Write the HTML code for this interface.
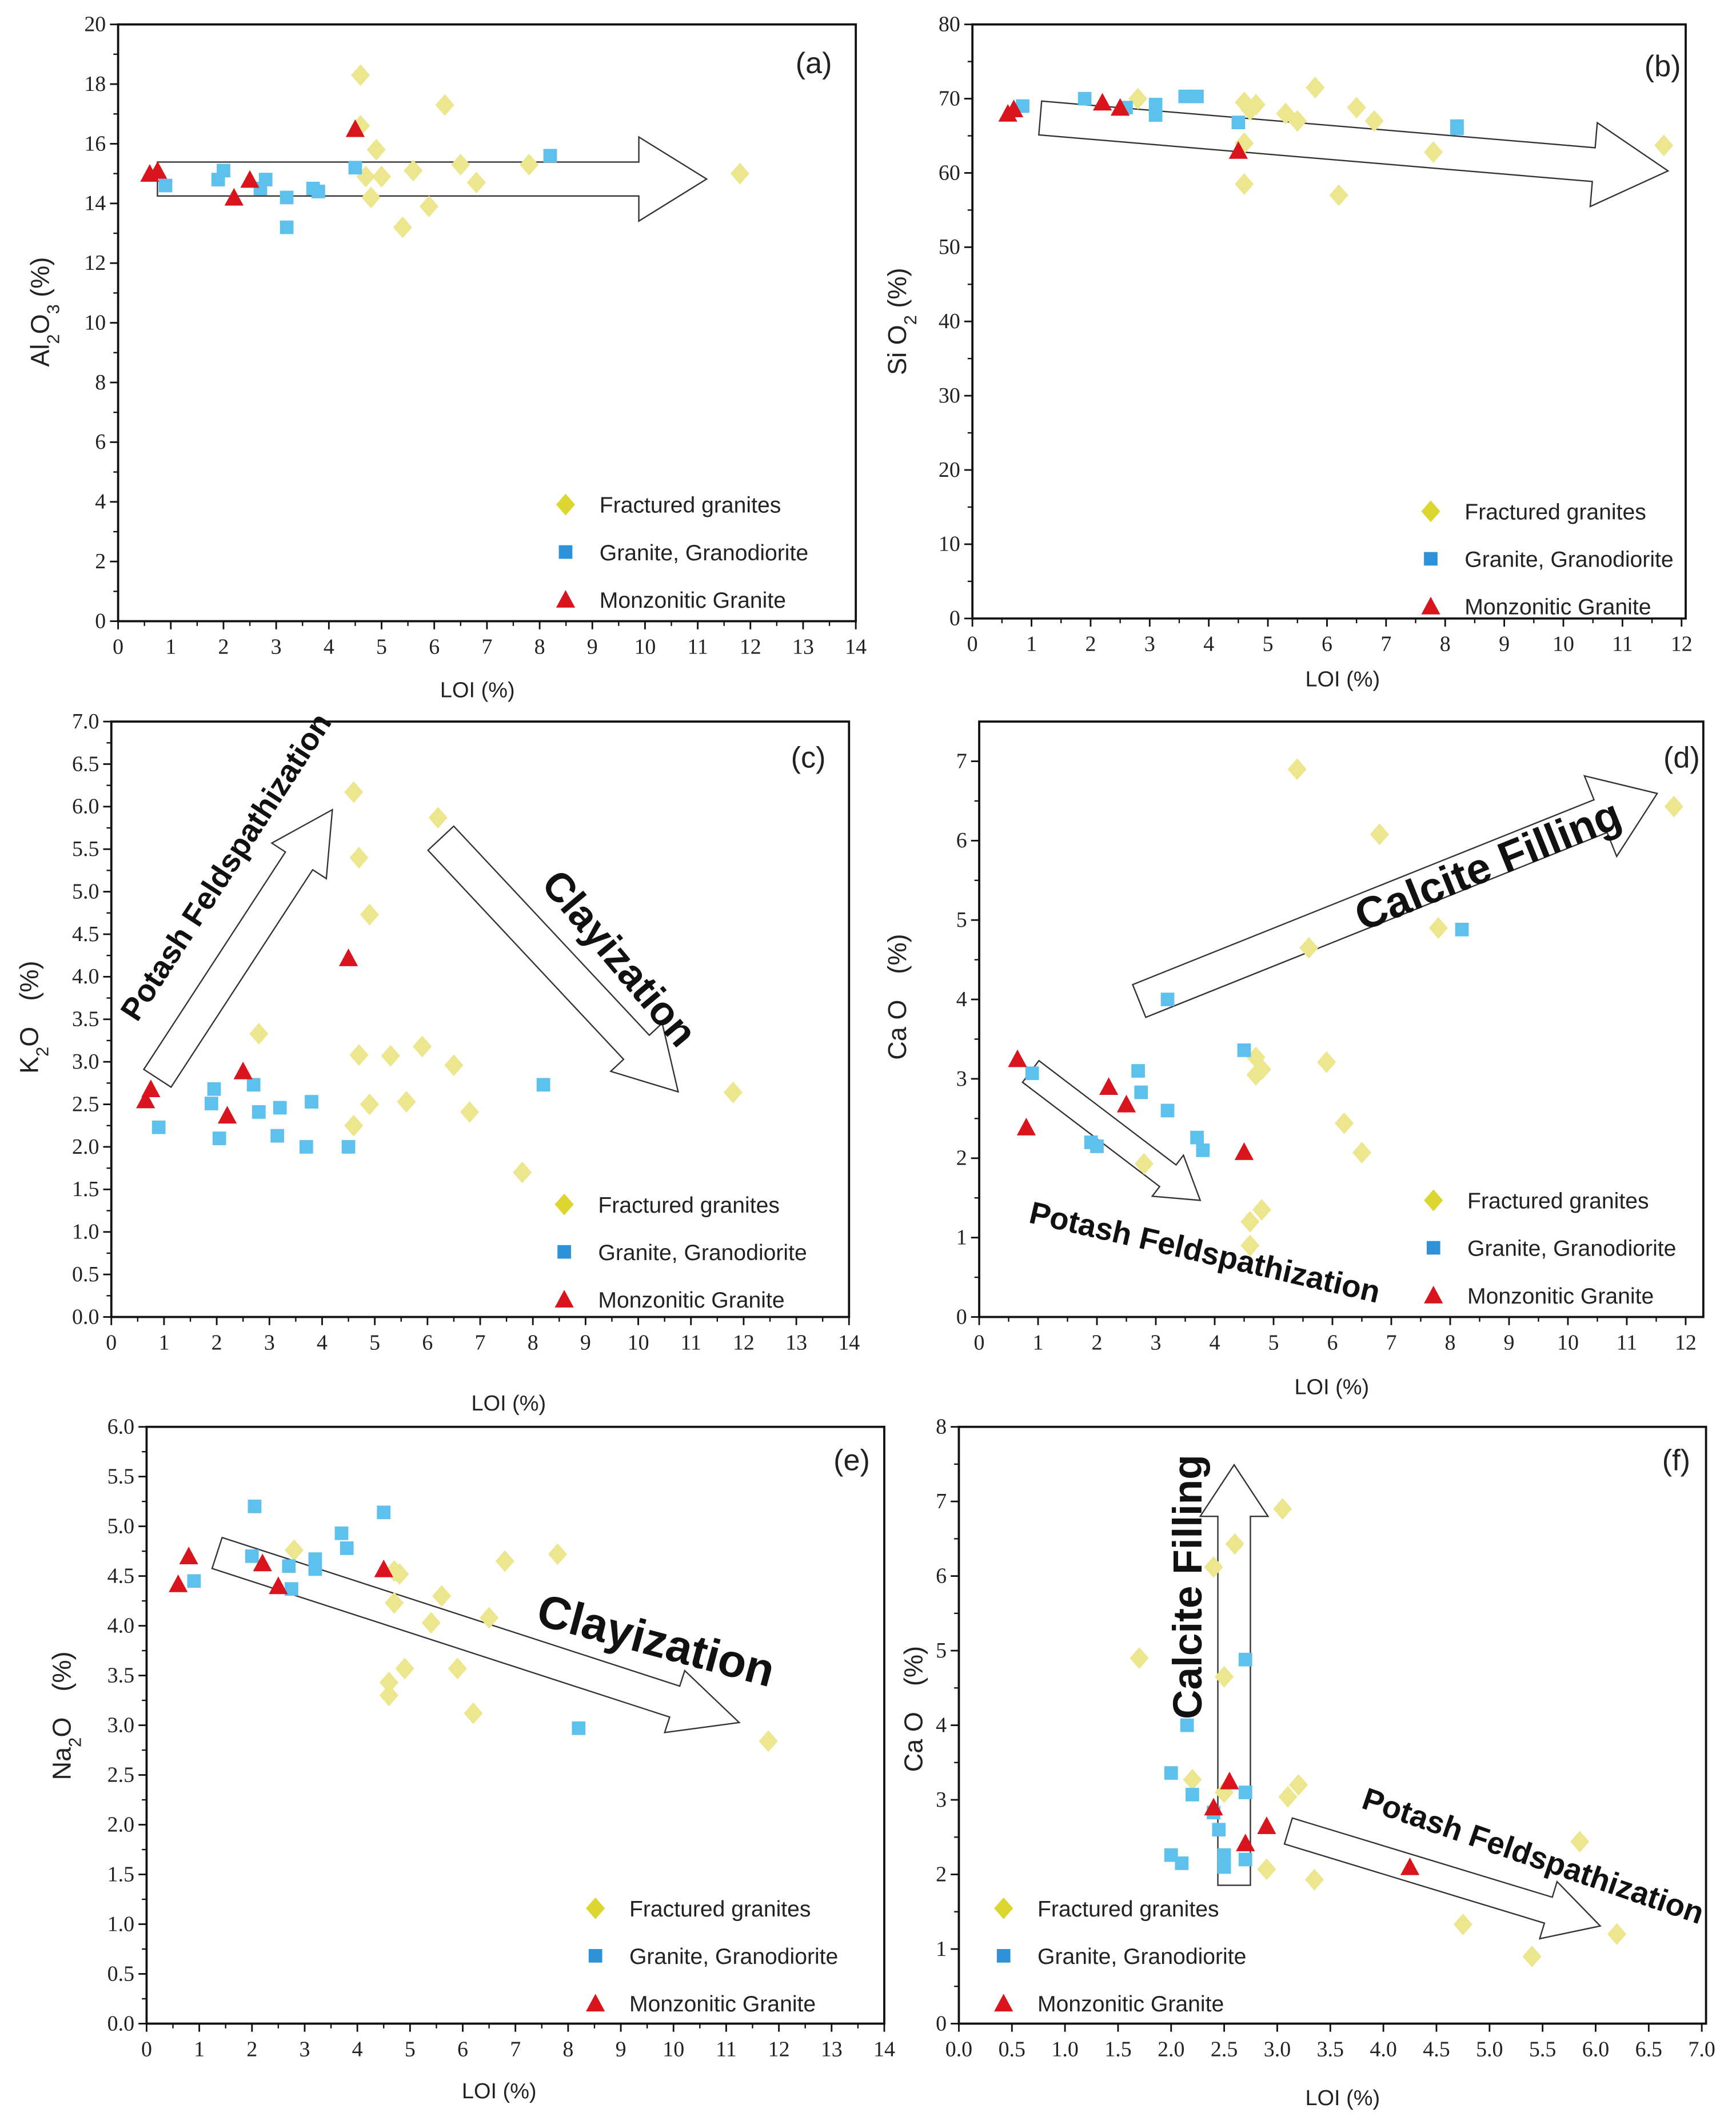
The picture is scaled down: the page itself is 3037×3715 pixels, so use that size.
<!DOCTYPE html>
<html><head><meta charset="utf-8"><style>
html,body{margin:0;padding:0;background:#fff;}
svg{display:block;}
</style></head><body>
<svg id="fig" xmlns="http://www.w3.org/2000/svg" width="3037" height="3715" viewBox="0 0 1280 1566"></svg>
<script>
// ---------- DATA ----------
const aYellow=[[4.6,18.3],[4.6,16.6],[4.7,14.9],[4.8,14.2],[4.9,15.8],[5,14.9],[5.4,13.2],[5.6,15.1],[5.9,13.9],[6.2,17.3],[6.5,15.3],[6.8,14.7],[7.8,15.3],[11.8,15.0]];
const aBlue=[[0.9,14.6],[1.9,14.8],[2.0,15.1],[2.7,14.5],[2.8,14.8],[3.2,14.2],[3.2,13.2],[3.7,14.5],[3.8,14.4],[4.5,15.2],[8.2,15.6]];
const aRed=[[0.6,15.0],[0.75,15.1],[2.2,14.2],[2.5,14.8],[4.5,16.5]];
const bYellow=[[2.8,70],[4.6,69.5],[4.7,68.5],[4.8,69.2],[4.6,64],[4.6,58.5],[5.3,68],[5.5,67],[5.8,71.5],[6.2,57],[6.5,68.8],[6.8,67],[7.8,62.8],[11.7,63.7]];
const bBlue=[[0.85,69],[1.9,70],[2.6,68.8],[3.1,69.2],[3.1,67.8],[3.6,70.3],[3.8,70.3],[4.5,66.8],[8.2,66],[8.2,66.3]];
const bRed=[[0.6,68],[0.7,68.6],[2.2,69.5],[2.5,68.8],[4.5,63]];
const cYellow=[[2.8,3.33],[4.6,6.17],[4.7,5.4],[4.9,4.73],[4.7,3.08],[4.9,2.5],[4.6,2.25],[5.3,3.07],[5.6,2.53],[5.9,3.18],[6.2,5.87],[6.5,2.96],[6.8,2.41],[7.8,1.7],[11.8,2.64]];
const cBlue=[[0.9,2.23],[1.9,2.51],[1.95,2.68],[2.05,2.1],[2.7,2.73],[2.8,2.41],[3.15,2.13],[3.2,2.46],[3.7,2.0],[3.8,2.53],[4.5,2.0],[8.2,2.73]];
const cRed=[[0.65,2.55],[0.75,2.68],[2.2,2.37],[2.5,2.89],[4.5,4.22]];
const dYellow=[[2.8,1.93],[4.6,0.9],[4.6,1.2],[4.7,3.27],[4.7,3.05],[4.8,3.12],[4.8,1.35],[5.4,6.9],[5.6,4.65],[5.9,3.21],[6.2,2.44],[6.5,2.07],[6.8,6.08],[7.8,4.9],[11.8,6.43]];
const dBlue=[[0.9,3.07],[1.9,2.2],[2.0,2.15],[2.7,3.1],[2.75,2.83],[3.2,4.0],[3.2,2.6],[3.7,2.26],[3.8,2.1],[4.5,3.36],[8.2,4.88]];
const dRed=[[0.65,3.25],[0.8,2.39],[2.2,2.9],[2.5,2.68],[4.5,2.08]];
const eYellow=[[2.8,4.76],[4.6,3.43],[4.6,3.3],[4.7,4.55],[4.7,4.23],[4.8,4.52],[4.9,3.57],[5.4,4.03],[5.6,4.3],[5.9,3.57],[6.2,3.12],[6.5,4.08],[6.8,4.65],[7.8,4.72],[11.8,2.84]];
const eBlue=[[0.9,4.45],[2.0,4.7],[2.05,5.2],[2.7,4.6],[2.75,4.37],[3.2,4.67],[3.2,4.57],[3.7,4.93],[3.8,4.78],[4.5,5.14],[8.2,2.97]];
const eRed=[[0.6,4.42],[0.8,4.7],[2.2,4.63],[2.5,4.4],[4.5,4.57]];
const fYellow=[[1.7,4.9],[2.2,3.27],[2.4,6.12],[2.5,4.65],[2.5,3.1],[2.6,6.43],[2.9,2.07],[3.05,6.9],[3.1,3.04],[3.2,3.2],[3.35,1.93],[4.75,1.33],[5.4,0.9],[5.85,2.44],[6.2,1.2]];
const fBlue=[[2.0,3.36],[2.0,2.26],[2.1,2.15],[2.15,4.0],[2.2,3.07],[2.4,2.83],[2.45,2.6],[2.5,2.26],[2.5,2.1],[2.7,4.88],[2.7,3.1],[2.7,2.2]];
const fRed=[[2.4,2.9],[2.55,3.25],[2.7,2.42],[2.9,2.65],[4.25,2.1]];
const legendLabels=["Fractured granites","Granite, Granodiorite","Monzonitic Granite"];

// ---------- DRAW ----------
const NS="http://www.w3.org/2000/svg";
const svg=document.getElementById('fig');
function el(tag,attrs,parent,text){const e=document.createElementNS(NS,tag);for(const k in attrs)e.setAttribute(k,attrs[k]);if(text!==undefined)e.textContent=text;(parent||svg).appendChild(e);return e;}
const YC="#ece78e",BC="#5ec0ec",RC="#d9141c";
function diamond(g,x,y,c){return el('polygon',{points:`${x},${y-8} ${x+7},${y} ${x},${y+8} ${x-7},${y}`,fill:c},g);}
function square(g,x,y,c){return el('rect',{x:x-5,y:y-5,width:10,height:10,fill:c},g);}
function tri(g,x,y,c){return el('polygon',{points:`${x},${y-7} ${x+7},${y+6} ${x-7},${y+6}`,fill:c},g);}
function arrow(g,x1,y1,x2,y2,hw,hh,hl){
  const dx=x2-x1,dy=y2-y1,L=Math.hypot(dx,dy),ux=dx/L,uy=dy/L,px=-uy,py=ux;
  const bx=x2-ux*hl,by=y2-uy*hl;
  const pts=[[x1+px*hw,y1+py*hw],[bx+px*hw,by+py*hw],[bx+px*hh,by+py*hh],[x2,y2],[bx-px*hh,by-py*hh],[bx-px*hw,by-py*hw],[x1-px*hw,y1-py*hw]];
  const a=el('polygon',{points:pts.map(p=>p.join(',')).join(' '),fill:'none',stroke:'#333','stroke-width':1},g);
  
  
}
function rtext(g,x,y,ang,size,str,name){
  const t=el('text',{x:x,y:y,transform:`rotate(${ang} ${x} ${y})`,'text-anchor':'middle','dominant-baseline':'middle','font-family':'Liberation Sans, sans-serif','font-weight':'bold','font-size':size,fill:'#111'},g,str);
  
  
}
function panel(p){
  const g=el('g',{},svg);
  
  
  const sx=v=>p.x0+(v-p.xmin)/(p.xmax-p.xmin)*(p.x1-p.x0);
  const sy=v=>p.y0-(v-p.ymin)/(p.ymax-p.ymin)*(p.y0-p.y1);
  const box=el('rect',{x:p.x0,y:p.y1,width:p.x1-p.x0,height:p.y0-p.y1,fill:'none',stroke:'#111','stroke-width':1.6},g);
  
  
  const tf='Liberation Serif, serif';
  // x ticks
  for(let i=0;;i++){const v=p.xmin+i*p.xstep;if(v>p.xmax+1e-9)break;const x=sx(v);
    el('line',{x1:x,y1:p.y0,x2:x,y2:p.y0+6,stroke:'#111','stroke-width':1.2},g);
    if(p.xminor){const xm=sx(v+p.xstep/2);if(v+p.xstep/2<p.xmax)el('line',{x1:xm,y1:p.y0,x2:xm,y2:p.y0+3.5,stroke:'#111','stroke-width':1},g);}
    const t=el('text',{x:x,y:p.y0+24,'text-anchor':'middle','font-family':tf,'font-size':16,fill:'#222'},g,v.toFixed(p.xdec));
    }
  for(let i=0;;i++){const v=p.ymin+i*p.ystep;if(v>p.ymax+1e-9)break;const y=sy(v);
    el('line',{x1:p.x0-6,y1:y,x2:p.x0,y2:y,stroke:'#111','stroke-width':1.2},g);
    const vm=v+p.ystep/2;if(vm<p.ymax){const ym=sy(vm);el('line',{x1:p.x0-3.5,y1:ym,x2:p.x0,y2:ym,stroke:'#111','stroke-width':1},g);}
    const t=el('text',{x:p.x0-9,y:y+5,'text-anchor':'end','font-family':tf,'font-size':16,fill:'#222'},g,v.toFixed(p.ydec));
    }
  const xt=el('text',{x:p.xtx,y:p.xty,'text-anchor':'middle','font-family':'Liberation Sans, sans-serif','font-size':16,fill:'#222'},g,'LOI (%)');
  
  const yt=el('text',{x:p.ytx,y:p.yty,transform:`rotate(-90 ${p.ytx} ${p.yty})`,'text-anchor':'middle','font-family':'Liberation Sans, sans-serif','font-size':19,fill:'#222'},g);
  yt.innerHTML=p.ytitle;
  
  const pl=el('text',{x:p.lblx,y:p.lbly,'text-anchor':'middle','font-family':'Liberation Sans, sans-serif','font-size':22,fill:'#222'},g,'('+p.id+')');
  
  (p.arrows||[]).forEach(a=>arrow(g,...a));
  p.yellow.forEach(d=>{const m=diamond(g,sx(d[0]),sy(d[1]),YC);});
  p.blue.forEach(d=>{const m=square(g,sx(d[0]),sy(d[1]),BC);});
  p.red.forEach(d=>{const m=tri(g,sx(d[0]),sy(d[1]),RC);});
  (p.texts||[]).forEach(t=>rtext(g,...t));
  // legend
  const lg=el('g',{},g);
  
  const fns=[diamond,square,tri],cols=["#ddd530","#2e92d8",RC];
  legendLabels.forEach((s,i)=>{const y=p.legY+i*35;
    fns[i](lg,p.legX,y,cols[i]);
    const t=el('text',{x:p.legX+25,y:y+6,'font-family':'Liberation Sans, sans-serif','font-size':16.5,fill:'#222'},lg,s);
    });
}
panel({id:'a',x0:87,x1:631,y0:458,y1:18,xmin:0,xmax:14,xstep:1,xdec:0,xminor:true,ymin:0,ymax:20,ystep:2,ydec:0,
  yellow:aYellow,blue:aBlue,red:aRed,xtx:352,xty:514,ytx:36,yty:230,ytitle:'Al<tspan baseline-shift="sub" font-size="13">2</tspan>O<tspan baseline-shift="sub" font-size="13">3</tspan> (%)',lblx:600,lbly:54,legX:417,legY:372,
  arrows:[[116,132,521,132,12.5,31,50]]});
panel({id:'b',x0:717,x1:1243,y0:456,y1:18,xmin:0,xmax:12.07,xstep:1,xdec:0,xminor:true,ymin:0,ymax:80,ystep:10,ydec:0,
  yellow:bYellow,blue:bBlue,red:bRed,xtx:990,xty:506,ytx:668,yty:237,ytitle:'Si O<tspan baseline-shift="sub" font-size="13">2</tspan> (%)',lblx:1226,lbly:56,legX:1055,legY:377,
  arrows:[[767,87,1230,126,12.5,31,55]]});
panel({id:'c',x0:82,x1:626,y0:971,y1:532,xmin:0,xmax:14,xstep:1,xdec:0,xminor:true,ymin:0,ymax:7,ystep:0.5,ydec:1,
  yellow:cYellow,blue:cBlue,red:cRed,xtx:375,xty:1040,ytx:28,yty:750,ytitle:'K<tspan baseline-shift="sub" font-size="13">2</tspan>O　(%)',lblx:596,lbly:566,legX:416,legY:888,
  arrows:[[116,795,245,597,12,24,45],[325,618,500,805,13,26,45]],
  texts:[[168,640,-57,23,'Potash Feldspathization','arrow-label-potash'],[455,708,50,30,'Clayization','arrow-label-clayization']]});
panel({id:'d',x0:722,x1:1256,y0:971,y1:532,xmin:0,xmax:12.3,xstep:1,xdec:0,xminor:true,ymin:0,ymax:7.5,ystep:1,ydec:0,
  yellow:dYellow,blue:dBlue,red:dRed,xtx:982,xty:1028,ytx:668,yty:735,ytitle:'Ca O　(%)',lblx:1240,lbly:566,legX:1057,legY:885,
  arrows:[[840,738,1222,585,13,32,45],[760,790,885,885,10,19,30]],
  texts:[[1098,640,-22,32,'Calcite Filling','arrow-label-calcite'],[888,925,13,23,'Potash Feldspathization','arrow-label-potash']]});
panel({id:'e',x0:108,x1:652,y0:1492,y1:1052,xmin:0,xmax:14,xstep:1,xdec:0,xminor:true,ymin:0,ymax:6,ystep:0.5,ydec:1,
  yellow:eYellow,blue:eBlue,red:eRed,xtx:368,xty:1547,ytx:52,yty:1265,ytitle:'Na<tspan baseline-shift="sub" font-size="13">2</tspan>O　(%)',lblx:628,lbly:1084,legX:439,legY:1407,
  arrows:[[160,1145,545,1270,12,24,50]],
  texts:[[483,1212,15,34,'Clayization','arrow-label-clayization']]});
panel({id:'f',x0:707,x1:1258,y0:1492,y1:1052,xmin:0,xmax:7.04,xstep:0.5,xdec:1,xminor:false,ymin:0,ymax:8,ystep:1,ydec:0,
  yellow:fYellow,blue:fBlue,red:fRed,xtx:990,xty:1552,ytx:680,yty:1260,ytitle:'Ca O　(%)',lblx:1236,lbly:1084,legX:740,legY:1407,
  arrows:[[910,1390,910,1080,12,25,38],[950,1350,1180,1420,10,22,40]],
  texts:[[878,1170,-90,30,'Calcite Filling','arrow-label-calcite'],[1130,1370,19,23,'Potash Feldspathization','arrow-label-potash']]});
</script>
</body></html>
